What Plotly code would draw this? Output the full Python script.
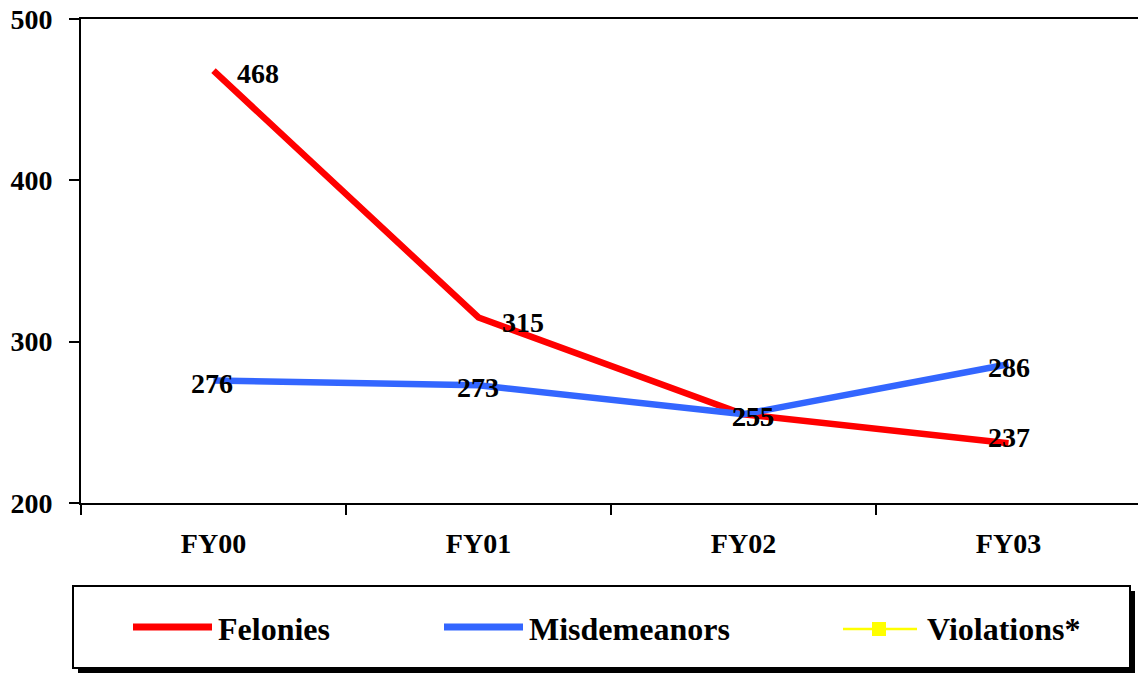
import plotly.graph_objects as go

categories = ["FY00", "FY01", "FY02", "FY03"]
series_names = ["Felonies", "Misdemeanors", "Violations*"]
felonies = [468, 315, 255, 237]
misdemeanors = [276, 273, 255, 286]
violations = [None, None, None, None]
y_ticks = [200, 300, 400, 500]

W, H = 1138, 674
L, T, B, R = 81, 19, 503, 1138
FONT = "Liberation Serif, Times New Roman, serif"

colors = ["#FF0000", "#3366FF", "#FFFF00"]

fig = go.Figure()
fig.add_trace(go.Scatter(x=categories, y=felonies, mode="lines",
                         line=dict(color=colors[0], width=6.5), name=series_names[0]))
fig.add_trace(go.Scatter(x=categories, y=misdemeanors, mode="lines",
                         line=dict(color=colors[1], width=6.5), name=series_names[1]))
fig.add_trace(go.Scatter(x=categories, y=violations, mode="lines+markers",
                         line=dict(color=colors[2], width=2.5),
                         marker=dict(symbol="square", size=14, color=colors[2]),
                         name=series_names[2]))

# data labels (offsets in px)
fel_off = [(44, -3), (44, -5), (9, -2), (0, 6)]
mis_off = [(-2, -3), (-1, -2), (9, -2), (0, -3)]
for vals, offs in ((felonies, fel_off), (misdemeanors, mis_off)):
    for c, v, (dx, dy) in zip(categories, vals, offs):
        if v is None:
            continue
        fig.add_annotation(x=c, y=v, text=str(v), showarrow=False,
                           xshift=dx, yshift=dy,
                           font=dict(family=FONT, size=28, color="black", weight="bold"))

# manual legend
def px_x(p):
    return (p - L) / (R - L)

def px_y(p):
    return (B - p) / (B - T)

shapes = []
shapes.append(dict(type="rect", xref="paper", yref="paper",
                   x0=px_x(78), x1=px_x(1135), y0=px_y(591), y1=px_y(673),
                   fillcolor="black", line=dict(width=0), layer="above"))
shapes.append(dict(type="rect", xref="paper", yref="paper",
                   x0=px_x(73), x1=px_x(1130), y0=px_y(586), y1=px_y(668),
                   fillcolor="white", line=dict(color="black", width=2), layer="above"))
leg_items = [
    (133, 212, 627, 7, 216),
    (444, 523, 627, 7, 527),
    (843, 917, 629, 2.5, 925),
]
for i, (x0, x1, yy, lw, tx) in enumerate(leg_items):
    shapes.append(dict(type="line", xref="paper", yref="paper",
                       x0=px_x(x0), x1=px_x(x1), y0=px_y(yy), y1=px_y(yy),
                       line=dict(color=colors[i], width=lw), layer="above"))
    fig.add_annotation(xref="paper", yref="paper", x=px_x(tx), y=px_y(629),
                       xanchor="left", yanchor="middle", showarrow=False,
                       text=series_names[i],
                       font=dict(family=FONT, size=32, color="black", weight="bold"))
shapes.append(dict(type="rect", xref="paper", yref="paper",
                   x0=px_x(872), x1=px_x(886), y0=px_y(622), y1=px_y(636),
                   fillcolor=colors[2], line=dict(width=0), layer="above"))

fig.update_layout(
    width=W, height=H,
    margin=dict(l=L, r=W - R, t=T, b=H - B, pad=0),
    plot_bgcolor="white", paper_bgcolor="white",
    showlegend=False,
    shapes=shapes,
    font=dict(family=FONT, size=28, color="black", weight="bold"),
)
fig.update_xaxes(
    type="category", range=[-0.5, -0.5 + (R - L) / 265.0],
    showgrid=False, zeroline=False,
    showline=True, linecolor="black", linewidth=2, mirror=True,
    ticks="outside", tickson="boundaries", ticklen=10, tickwidth=2, tickcolor="black",
    tickfont=dict(family=FONT, size=28, color="black", weight="bold"),
    ticklabelstandoff=14,
)
fig.update_yaxes(
    range=[200, 500], tickvals=y_ticks, ticktext=[str(v) for v in y_ticks],
    showgrid=False, zeroline=False,
    showline=True, linecolor="black", linewidth=2,
    ticks="outside", ticklen=10, tickwidth=2, tickcolor="black",
    tickfont=dict(family=FONT, size=28, color="black", weight="bold"),
    ticklabelstandoff=11,
)
fig.write_html("out.html",
               config={"displayModeBar": False},
               post_script="document.body.style.margin='0';document.body.style.padding='0';document.body.style.overflow='hidden';")
